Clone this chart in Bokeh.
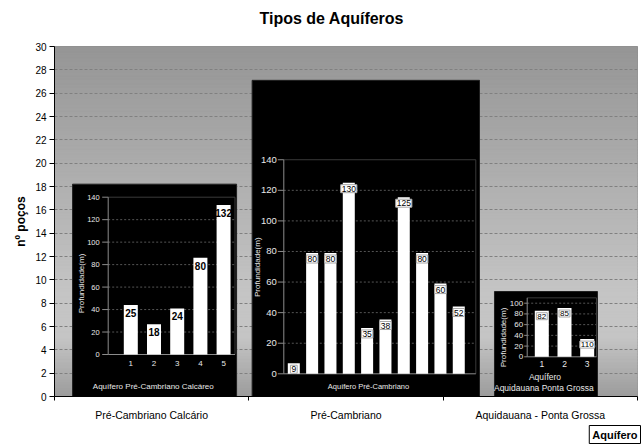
import numpy as np
from bokeh.plotting import figure
from bokeh.models import Range1d, FixedTicker, Title
from bokeh.core.properties import value
from bokeh.embed import file_html
from bokeh.resources import INLINE

FONT = "Liberation Sans"

# ---------------- data ----------------
categories = ["Pré-Cambriano Calcário", "Pré-Cambriano", "Aquidauana - Ponta Grossa"]
n_pocos = [18.2, 27.1, 9.0]
main_yticks = list(range(0, 31, 2))
chart_title = "Tipos de Aquíferos"
y_title = "nº poços"
x_title = "Aquífero"

ins1_wells = [1, 2, 3, 4, 5]
ins1_depth = [44, 27, 41, 86, 133]
ins1_labels = ["25", "18", "24", "80", "132"]
ins1_yticks = [0, 20, 40, 60, 80, 100, 120, 140]
ins1_xtitle = ["Aquífero Pré-Cambriano Calcáreo"]

ins2_wells = [1, 2, 3, 4, 5, 6, 7, 8, 9, 10]
ins2_depth = [6.9, 79, 79, 125, 30, 35.5, 115.5, 79, 59, 44]
ins2_labels = ["9", "80", "80", "130", "35", "38", "125", "80", "60", "52"]
ins2_yticks = [0, 20, 40, 60, 80, 100, 120, 140]
ins2_xtitle = ["Aquífero Pré-Cambriano"]

ins3_wells = [1, 2, 3]
ins3_depth = [86, 91, 33]
ins3_labels = ["82", "85", "110"]
ins3_yticks = [0, 20, 40, 60, 80, 100]
ins3_xtitle = ["Aquífero", "Aquidauana  Ponta Grossa"]

inset_ytitle = "Profundidade(m)"

# ---------------- layout ----------------
W, H = 643, 444
FL, FR, FT, FB = 54, 637, 46, 396

p = figure(width=W, height=H, x_range=Range1d(0, 3), y_range=Range1d(0, 30),
           output_backend="svg", toolbar_location=None,
           min_border_left=FL, min_border_right=W - FR,
           min_border_top=FT, min_border_bottom=H - FB)
p.background_fill_color = "#b0b0b0"
p.border_fill_color = "white"
p.outline_line_color = "#8a8a8a"

p.title.text = chart_title
p.title.text_font = FONT
p.title.text_font_size = "16px"
p.title.text_font_style = "bold"
p.title.text_color = "black"
p.title.align = "left"
p.title.offset = 259 - FL
p.title.standoff = 0
# empty spacer panel between the title and the plot area
p.add_layout(Title(text=" ", text_font_size="1px", standoff=17), "above")

# background gradient (decoration)
edges = np.linspace(0, 30, 121)
mids = (edges[:-1] + edges[1:]) / 2
g = np.interp(mids, [0, 5, 9, 30], [156, 197, 197, 150]).astype(int)
cols = ["#%02x%02x%02x" % (v, v, v) for v in g]
gr = p.quad(left=0, right=3, bottom=edges[:-1], top=edges[1:], fill_color=cols,
            line_color=cols, line_width=1)
gr.level = "image"

# axes
p.yaxis.ticker = FixedTicker(ticks=main_yticks)
p.yaxis.axis_label = y_title
p.yaxis.axis_label_text_font = FONT
p.yaxis.axis_label_text_font_size = "12px"
p.yaxis.axis_label_text_font_style = "bold"
p.yaxis.axis_label_text_color = "black"
p.yaxis.axis_label_standoff = 4
p.yaxis.major_label_text_font = FONT
p.yaxis.major_label_text_font_size = "10px"
p.yaxis.major_label_text_color = "black"
p.yaxis.major_label_standoff = 3
p.yaxis.major_tick_out = 5
p.yaxis.major_tick_in = 0
p.yaxis.major_tick_line_color = "black"
p.yaxis.minor_tick_line_color = None
p.yaxis.axis_line_color = "black"

p.xaxis.ticker = FixedTicker(ticks=[i + 0.5 for i in range(len(categories))],
                             minor_ticks=list(range(len(categories) + 1)))
p.xaxis.major_label_overrides = {i + 0.5: c for i, c in enumerate(categories)}
p.xaxis.major_tick_line_color = None
p.xaxis.minor_tick_out = 4
p.xaxis.minor_tick_in = 0
p.xaxis.minor_tick_line_color = "black"
p.xaxis.major_label_text_font = FONT
p.xaxis.major_label_text_font_size = "10.5px"
p.xaxis.major_label_text_color = "black"
p.xaxis.major_label_standoff = 6
p.xaxis.axis_line_color = "black"

p.ygrid.grid_line_color = "#808080"
p.ygrid.grid_line_dash = "3 2"
p.xgrid.visible = False

# x-axis title box at bottom right
p.add_layout(Title(text=x_title, align="right", offset=-3, standoff=0,
                   text_font=FONT, text_font_size="11px", text_font_style="bold",
                   text_color="black", background_fill_color="white",
                   border_line_color="black", padding=3), "below")

# main bars (each holds an inset chart)
box_left = [0.093, 1.017, 2.264]
box_right = [0.937, 2.187, 2.794]
p.quad(left=box_left, right=box_right, bottom=0, top=n_pocos,
       fill_color="black", line_color="#202020")

# ---------------- insets ----------------
insets = [
    dict(name="i1", x0=107.1, xs=23.2, y0=354.0, ys=1.1236,
         wells=ins1_wells, depth=ins1_depth, labels=ins1_labels, yticks=ins1_yticks,
         ftop=140, fl_px=107.7, fr_px=234.5, bar_px=14, tick_px=6, ytl_off=-8.5,
         ytl_size="7.5px", xtl=True, xtl_off=9, xtl_size="8px",
         lab_size="10px", lab_bold=True, lab_box=False, lab_off=4,
         yt=(80.7, 283), yt_size="8px", xt=ins1_xtitle, xt_x=152.8, xt_y=[386],
         xt_size="8px"),
    dict(name="i2", x0=274.97, xs=18.33, y0=373.3, ys=1.529,
         wells=ins2_wells, depth=ins2_depth, labels=ins2_labels, yticks=ins2_yticks,
         ftop=140, fl_px=283.3, fr_px=475.3, bar_px=12, tick_px=6, ytl_off=-7,
         ytl_size="9.5px", xtl=False, xtl_off=0, xtl_size="8px",
         lab_size="8.5px", lab_bold=False, lab_box=True, lab_off=2,
         yt=(257, 266.7), yt_size="8px", xt=ins2_xtitle, xt_x=368, xt_y=[385.7],
         xt_size="7.5px"),
    dict(name="i3", x0=518.6, xs=22.7, y0=356.3, ys=0.536,
         wells=ins3_wells, depth=ins3_depth, labels=ins3_labels, yticks=ins3_yticks,
         ftop=110, fl_px=526.7, fr_px=596, bar_px=14, tick_px=3, ytl_off=-4,
         ytl_size="8px", xtl=True, xtl_off=7, xtl_size="8.5px",
         lab_size="8px", lab_bold=False, lab_box=True, lab_off=2,
         yt=(503.3, 337), yt_size="8px", xt=ins3_xtitle, xt_x=544.5, xt_y=[376.7, 387.3],
         xt_size="8.5px"),
]


def ux(c, px):
    return (px - c["x0"]) / c["xs"]


def uy(c, py):
    return (c["y0"] - py) / c["ys"]


p.extra_x_ranges = {c["name"]: Range1d(ux(c, FL), ux(c, FR)) for c in insets}
p.extra_y_ranges = {c["name"]: Range1d(uy(c, FB), uy(c, FT)) for c in insets}

for c in insets:
    kw = dict(x_range_name=c["name"], y_range_name=c["name"])
    fl, fr, ft = ux(c, c["fl_px"]), ux(c, c["fr_px"]), c["ftop"]
    grid = [t for t in c["yticks"] if 0 < t < ft]
    p.segment(x0=fl, x1=fr, y0=grid, y1=grid, line_color="#555555",
              line_width=1, line_dash="2 2", **kw)
    p.segment(x0=[fl, fr], y0=[ft, 0], x1=[fr, fr], y1=[ft, ft],
              line_color="#3a3a3a", line_width=1, **kw)
    tl = c["tick_px"] / c["xs"]
    p.segment(x0=fl - tl, x1=fl, y0=c["yticks"], y1=c["yticks"],
              line_color="#8c8c8c", **kw)
    p.segment(x0=[fl, fl], y0=[0, 0], x1=[fl, fr], y1=[ft, 0],
              line_color="#8c8c8c", **kw)
    p.text(x=fl, y=c["yticks"], text=[str(t) for t in c["yticks"]],
           x_offset=c["ytl_off"], text_align="right", text_baseline="middle",
           text_color="#e8e8e8", text_font=value(FONT),
           text_font_size=c["ytl_size"], **kw)
    p.vbar(x=c["wells"], top=c["depth"], bottom=0, width=c["bar_px"] / c["xs"],
           fill_color="white", line_color=None, **kw)
    lab_kw = dict(border_line_color="#a8a8a8", background_fill_color="white",
                  padding=1) if c["lab_box"] else {}
    p.text(x=c["wells"], y=c["depth"], text=c["labels"], y_offset=c["lab_off"],
           text_align="center", text_baseline="top",
           text_font_style="bold" if c["lab_bold"] else "normal",
           text_color="black", text_font=value(FONT),
           text_font_size=c["lab_size"], **lab_kw, **kw)
    if c["xtl"]:
        p.text(x=c["wells"], y=0, text=[str(w) for w in c["wells"]],
               y_offset=c["xtl_off"], text_align="center", text_baseline="middle",
               text_color="#e8e8e8", text_font=value(FONT),
               text_font_size=c["xtl_size"], **kw)
    p.text(x=ux(c, c["yt"][0]), y=uy(c, c["yt"][1]), text=[inset_ytitle],
           angle=np.pi / 2, text_align="center", text_baseline="middle",
           text_color="#e8e8e8", text_font=value(FONT),
           text_font_size=c["yt_size"], **kw)
    p.text(x=ux(c, c["xt_x"]), y=[uy(c, v) for v in c["xt_y"]], text=c["xt"],
           text_align="center", text_baseline="middle",
           text_color="#e8e8e8", text_font=value(FONT),
           text_font_size=c["xt_size"], **kw)

open("out.html", "w").write(file_html(p, INLINE))
